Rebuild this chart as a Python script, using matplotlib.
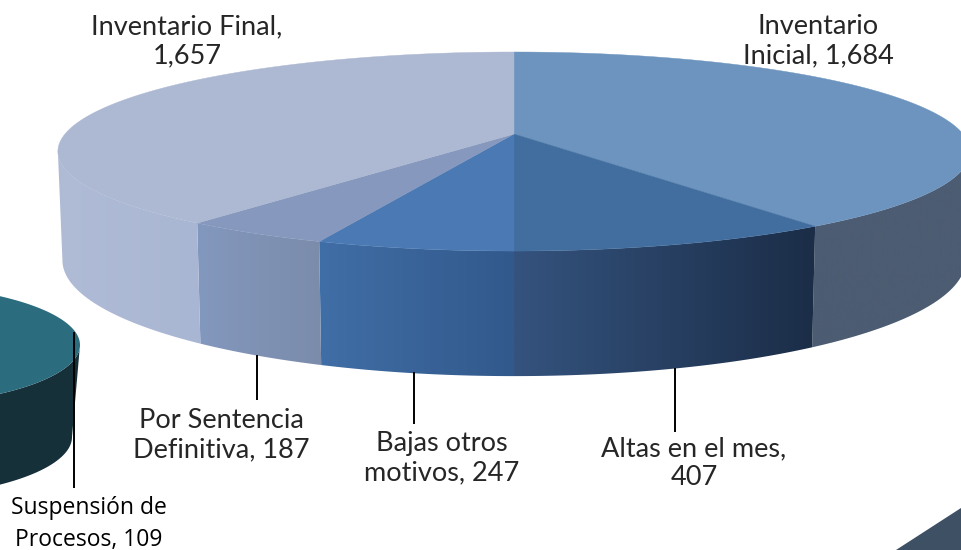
import numpy as np
import matplotlib
matplotlib.use('Agg')
import matplotlib.pyplot as plt
from matplotlib.colors import LinearSegmentedColormap
from matplotlib.patches import Polygon

# datos del pastel principal, sentido horario desde arriba
categorias = ['Inventario Inicial', 'Altas en el mes', 'Bajas otros motivos',
              'Por Sentencia Definitiva', 'Inventario Final']
valores = [1684, 407, 247, 187, 1657]
textos = ['Inventario\nInicial, 1,684', 'Altas en el mes,\n407', 'Bajas otros\nmotivos, 247',
          'Por Sentencia\nDefinitiva, 187', 'Inventario Final,\n1,657']

# colores: tapa, lateral izq, lateral der
tapa = ['#6c94be', '#416e9f', '#4a79b4', '#8698bd', '#adb9d2']
lado_izq = ['#4c5c72', '#34537e', '#406ea6', '#8398be', '#b0bcd6']
lado_der = ['#4c5c72', '#1b2d47', '#32598c', '#7b8cab', '#a9b6d3']

fig = plt.figure(figsize=(9.61, 5.5), dpi=100)
ax = fig.add_axes([0, 0, 1, 1])

# perspectiva del disco (pixeles de la figura)
CX, CY = 514, 134
A, B, P = 449, 72.85, 0.176


def top_xy(theta):
    u, v = np.sin(theta), -np.cos(theta)
    w = 1 - P*v
    return CX + A*u/w, (B*v + CY)/w


def bottom_xy(theta):
    x, y = top_xy(theta)
    return CX + 0.99*(x - CX), CY + 106 + 1.163*(y - CY)


def gradiente(poly, c1, c2, x1, x2, y1=0, y2=550, z=2):
    cm = LinearSegmentedColormap.from_list('g', [c1, c2])
    im = ax.imshow(np.linspace(0, 1, 256).reshape(1, -1), cmap=cm, aspect='auto',
                   extent=[x1, x2, y2, y1], zorder=z)
    ax.add_patch(poly)
    poly.set_facecolor('none')
    poly.set_edgecolor('none')
    im.set_clip_path(poly)


cum = np.cumsum([0] + valores)/sum(valores)*2*np.pi
tangente = np.arccos(-P)  # donde el contorno toca el extremo izq/der

# laterales
for i in range(len(valores)):
    t1 = max(cum[i], tangente)
    t2 = min(cum[i+1], 2*np.pi - tangente)
    if t2 <= t1:
        continue
    t = np.linspace(t1, t2, 200)
    xt, yt = top_xy(t)
    xb, yb = bottom_xy(t)
    pts = np.vstack([np.c_[xt, yt], np.c_[xb, yb][::-1]])
    p = Polygon(pts, closed=True, zorder=2)
    x1, x2 = pts[:, 0].min(), pts[:, 0].max()
    gradiente(p, lado_izq[i], lado_der[i], x1, x2)

# tapa
for i in range(len(valores)):
    t = np.linspace(cum[i], cum[i+1], 300)
    xt, yt = top_xy(t)
    pts = np.vstack([[CX, CY], np.c_[xt, yt]])
    ax.add_patch(Polygon(pts, closed=True, facecolor=tapa[i], edgecolor=tapa[i], lw=0.3, zorder=3))

# segundo pastel, recortado a la izquierda
t = np.linspace(-np.pi, np.pi, 400)
ex, ey = -120 + 200*np.cos(t), 345 + 61*np.sin(t)
th = np.linspace(0, np.pi/2, 200)
lado = np.vstack([np.c_[-120 + 200*np.cos(th), 345 + 61*np.sin(th)],
                  np.c_[-120 + 192*np.cos(th), 437 + 61*np.sin(th)][::-1]])
ax.add_patch(Polygon(lado, closed=True, facecolor='#16303a', edgecolor='none', zorder=2))
ax.fill(ex, ey, color='#2b6c7e', lw=0, zorder=3)

# lineas guia
guias = [(257, 355, 400), (414, 372, 424), (675, 368, 432), (74, 332, 488)]
for x, y1, y2 in guias:
    ax.plot([x, x], [y1, y2], color='black', lw=1.4, zorder=4, solid_capstyle='butt')

# etiquetas
pos = [(818, 41), (694, 463), (442, 458), (221, 435), (187, 41)]
for (x, y), s in zip(pos, textos):
    ax.text(x, y, s, ha='center', va='center', fontsize=19.5, family='Lato', color='#262626',
            linespacing=1.2, zorder=5)
ax.text(89, 524, 'Suspensión de\nProcesos, 109', ha='center', va='center', fontsize=16.5,
        family='Open Sans', color='#000000', linespacing=1.42, zorder=5)

# esquina inferior derecha
ax.add_patch(Polygon([(896, 550), (961, 508), (961, 550)], closed=True, facecolor='#3d5064',
                     edgecolor='none', zorder=1))

ax.set_xlim(0, 961)
ax.set_ylim(550, 0)
ax.axis('off')
fig.savefig('out.png', dpi=100)
